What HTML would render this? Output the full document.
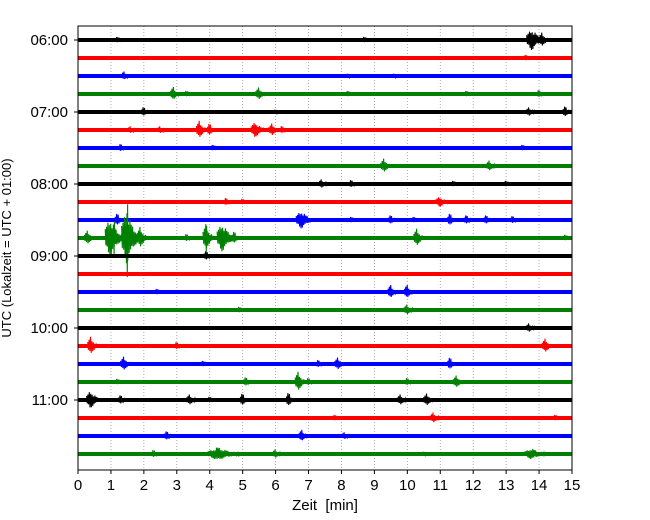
<!DOCTYPE html>
<html><head><meta charset="utf-8"><style>body{margin:0;background:#fff}svg{display:block;font-family:"Liberation Sans","DejaVu Sans",sans-serif}</style></head>
<body>
<svg id="c" width="650" height="520"></svg>
<script>
const rowColors=["#000000","#ff0000","#0000ff","#008000"];
const hourLabels=["06:00","07:00","08:00","09:00","10:00","11:00"];
const xTicks=[0,1,2,3,4,5,6,7,8,9,10,11,12,13,14,15];
// events per row: [minute, amplitude(px), duration(min)]
const rowEvents=[
[[1.2,4,.2],[8.7,4,.2],[13.8,12,.5],[14.1,8,.3]],
[[13.6,4,.2]],
[[1.4,5,.25],[8.2,3,.2],[9.6,3,.2]],
[[2.9,8,.25],[3.3,4,.2],[5.5,7,.3],[8.2,4,.2],[11.8,4,.2],[14.0,5,.2]],
[[2.0,6,.2],[6.0,3,.2],[13.7,5,.3],[14.8,7,.2]],
[[1.6,4,.3],[2.5,4,.3],[3.7,10,.3],[4.0,8,.2],[5.4,9,.4],[5.9,7,.3],[6.2,5,.2]],
[[1.3,5,.2],[4.1,4,.2],[13.5,4,.2]],
[[9.3,8,.3],[12.5,6,.3]],
[[7.4,5,.3],[8.3,5,.2],[11.4,4,.2],[13.0,4,.2]],
[[4.5,5,.2],[5.0,4,.2],[11.0,6,.4]],
[[1.2,8,.2],[6.8,10,.5],[8.3,4,.2],[9.5,6,.2],[10.2,4,.2],[11.3,8,.2],[11.8,6,.2],[12.4,6,.2],[13.2,5,.2]],
[[0.3,8,.3],[1.0,22,.5],[1.1,30,.04],[1.5,30,.5],[1.5,62,.04],[1.9,12,.3],[3.3,5,.2],[3.9,15,.3],[3.9,22,.04],[4.4,16,.5],[4.75,8,.2],[10.3,10,.3],[14.8,4,.2]],
[[3.9,6,.2]],
[],
[[2.4,4,.2],[9.5,8,.25],[10.0,8,.25]],
[[4.9,4,.2],[10.0,6,.3]],
[[13.7,5,.3]],
[[0.4,10,.3],[3.0,5,.2],[14.2,8,.3]],
[[1.4,8,.3],[3.8,4,.2],[7.3,5,.2],[7.9,7,.3],[11.3,8,.2]],
[[1.2,4,.2],[5.1,6,.2],[6.7,11,.3],[7.0,5,.2],[10.0,5,.2],[11.5,7,.3]],
[[0.4,10,.4],[1.3,6,.2],[3.4,6,.3],[4.0,4,.2],[5.0,8,.2],[6.4,9,.2],[9.8,6,.3],[10.6,7,.3]],
[[7.8,4,.2],[10.8,6,.3],[14.5,4,.2]],
[[2.7,6,.2],[6.8,7,.25],[8.1,4,.3]],
[[2.3,5,.2],[4.3,7,1.0],[6.0,5,.3],[10.5,3,.2],[13.8,6,.7]]
];
const NS="http://www.w3.org/2000/svg",svg=document.getElementById("c");
const L=78,R=572,T=26,B=470,Y0=40,DY=18;
const x=m=>L+(R-L)*m/15, y=r=>Y0+r*DY;
const wig=[1,.7,.9,.6,.95,.8,.65,.85,.7,.9,.6,.75];
function mk(t,a,p){const e=document.createElementNS(NS,t);for(const k in a)e.setAttribute(k,a[k]);(p||svg).appendChild(e);return e;}
const g=mk("g",{});


xTicks.forEach(t=>{if(t>0&&t<15)mk("line",{x1:x(t),x2:x(t),y1:T,y2:B,stroke:"#999",["stroke-width"]:.8,["stroke-dasharray"]:"1,2"},g);});
rowEvents.forEach((evs,r)=>{
  const tr=mk("g",{});
  
  
  const c=rowColors[r%4],yy=y(r);
  mk("line",{x1:L,x2:R,y1:yy,y2:yy,stroke:c,["stroke-width"]:4},tr);
  evs.forEach(ev=>{
    const [m,a,w]=ev;const x0=x(m-w*0.35),x1=x(m+w*0.65);const n=Math.max(4,Math.round((x1-x0)/0.7));
    let pts=[];
    for(let i=0;i<=n;i++){const f=i/n;const env=f<.3?0.4+0.6*f/.3:Math.exp(-(f-.3)*2.5);
      pts.push((x0+(x1-x0)*f).toFixed(1)+","+(yy+(i%2?1:-1)*a*env*wig[i%wig.length]).toFixed(1));}
    const p=mk("polyline",{points:pts.join(" "),fill:"none",stroke:c,["stroke-width"]:1.1},tr);
    
    
  });
});
mk("rect",{x:L,y:T,width:R-L,height:B-T,fill:"none",stroke:"#000",["stroke-width"]:1});
xTicks.forEach(t=>{mk("line",{x1:x(t),x2:x(t),y1:B,y2:B+4,stroke:"#000"});
  const tx=mk("text",{x:x(t),y:B+20,["text-anchor"]:"middle",["font-size"]:15});tx.textContent=t;
  
  });
hourLabels.forEach((h,i)=>{const yy=y(i*4);mk("line",{x1:L-4,x2:L,y1:yy,y2:yy,stroke:"#000"});
  const tx=mk("text",{x:L-10,y:yy+5,["text-anchor"]:"end",["font-size"]:15});tx.textContent=h;
  
  });
const xl=mk("text",{x:325,y:510,["text-anchor"]:"middle",["font-size"]:15,style:"white-space:pre"});xl.textContent="Zeit  [min]";


const yl=mk("text",{x:0,y:0,["text-anchor"]:"middle",["font-size"]:13,transform:"translate(11,248) rotate(-90)"});yl.textContent="UTC (Lokalzeit = UTC + 01:00)";


</script>
</body></html>
